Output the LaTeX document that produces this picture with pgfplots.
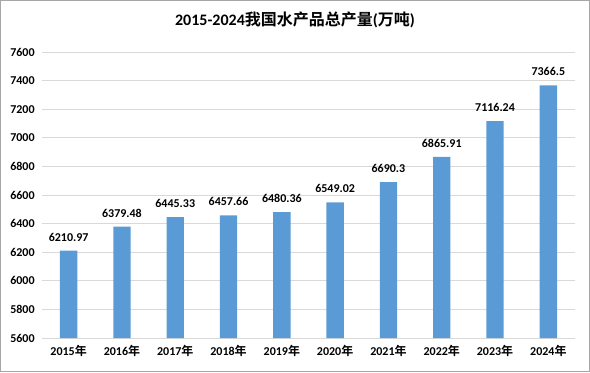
\documentclass[border=0pt]{standalone}
\usepackage{pgfplots}
\pgfplotsset{compat=1.18}
\usepackage{fontspec}
\setmainfont{Carlito}
\newfontfamily\cjk{Noto Sans CJK SC}[BoldFont={Noto Sans CJK SC Bold}]
\definecolor{barblue}{HTML}{5B9BD5}
\definecolor{gridgray}{HTML}{D9D9D9}
\begin{document}
\begin{tikzpicture}[x=0.75pt,y=0.75pt]
\draw[draw=gray!70, line width=0.75pt] (0.5,0.5) rectangle (589.5,371.5);
\node[font=\bfseries\fontsize{12}{14}\selectfont] at (295,352) {2015-2024{\cjk\bfseries 我国水产品总产量}({\cjk\bfseries 万吨})};
\begin{axis}[
  at={(42*0.75pt,34*0.75pt)}, anchor=south west,
  scale only axis, width=533*0.75pt, height=286*0.75pt,
  xmin=-0.5, xmax=9.5, ymin=5600, ymax=7600,
  ytick={5600,5800,...,7600},
  xtick={0,...,9},
  xticklabels={2015{\cjk 年},2016{\cjk 年},2017{\cjk 年},2018{\cjk 年},2019{\cjk 年},2020{\cjk 年},2021{\cjk 年},2022{\cjk 年},2023{\cjk 年},2024{\cjk 年}},
  ymajorgrids, grid style={gridgray, line width=0.75pt},
  axis line style={draw=none},
  major tick length=0pt,
  tick label style={font=\bfseries\fontsize{9}{10}\selectfont},
  /pgf/number format/assume math mode=true,
  yticklabel style={/pgf/number format/1000 sep={}, xshift=-2pt},
  xticklabel style={yshift=-2pt},
  nodes near coords,
  nodes near coords style={font=\bfseries\fontsize{9}{10}\selectfont, yshift=3.5pt},
  point meta=explicit symbolic,
  clip=false,
]
\addplot[ybar, bar width=13pt, fill=barblue, draw=none] table[meta=label] {
x y label
0 6210.97 6210.97
1 6379.48 6379.48
2 6445.33 6445.33
3 6457.66 6457.66
4 6480.36 6480.36
5 6549.02 6549.02
6 6690.3 6690.3
7 6865.91 6865.91
8 7116.24 7116.24
9 7366.5 7366.5
};
\end{axis}
\end{tikzpicture}
\end{document}
